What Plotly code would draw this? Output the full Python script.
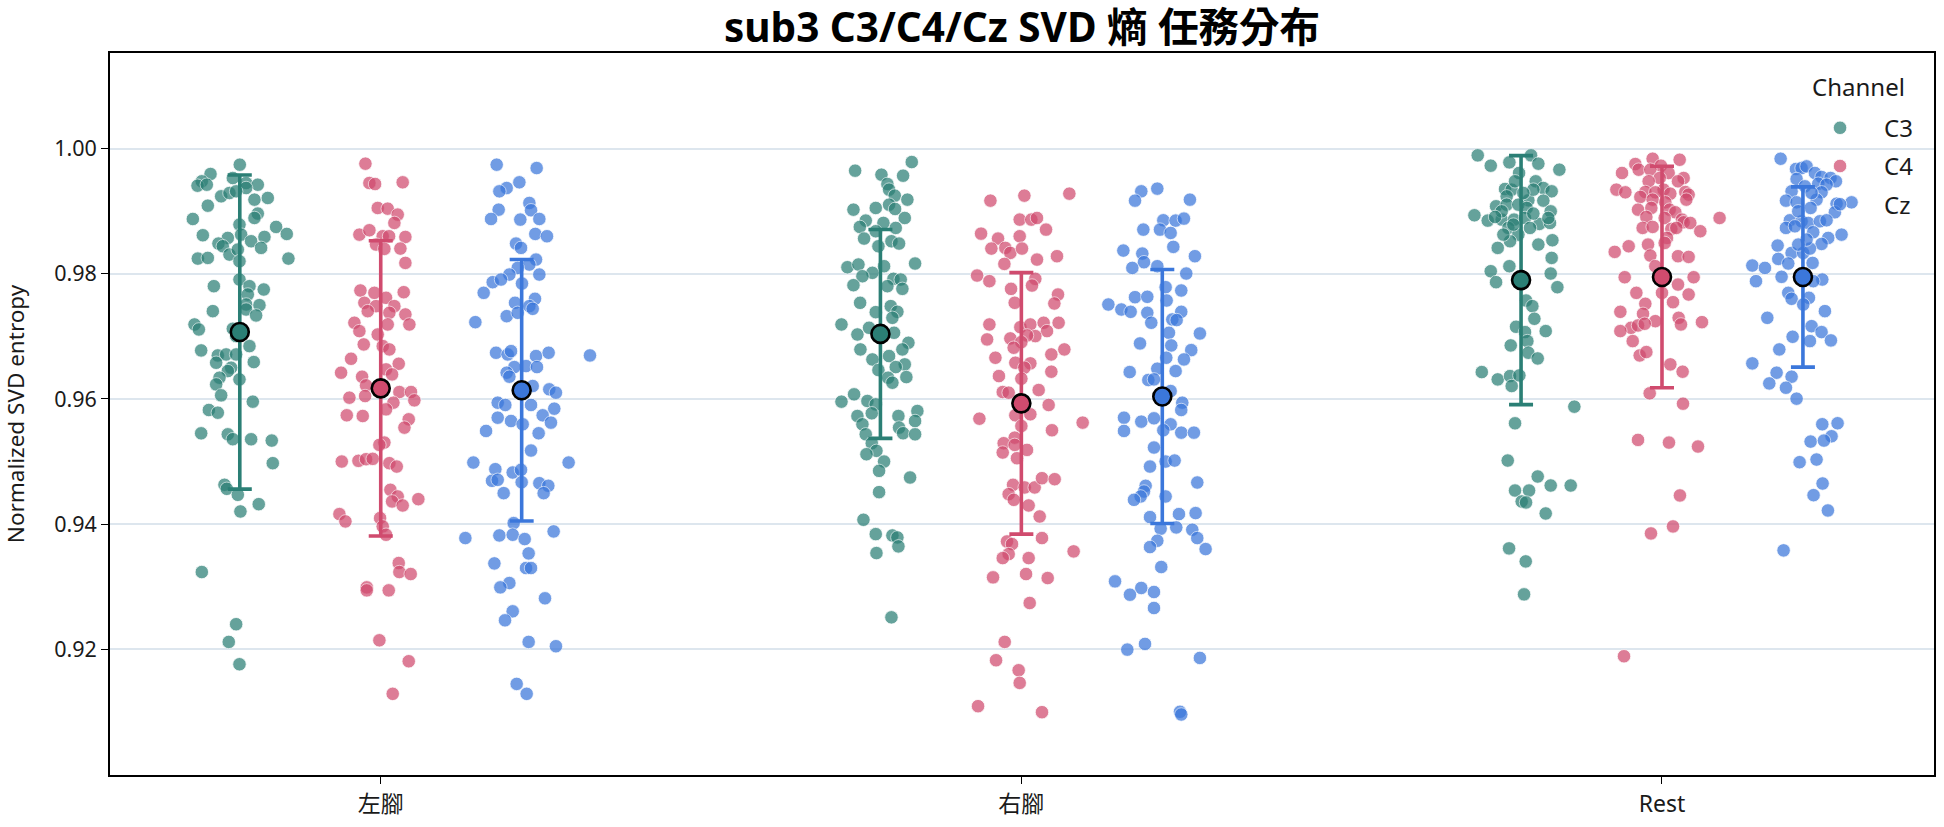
import plotly.graph_objects as go

# ---------------- data ----------------
categories = ["左腳", "右腳", "Rest"]
channels = ["C3", "C4", "Cz"]

left_c3_y = [0.99745,0.99596,0.99479,0.99409,0.99425,0.99532,0.99452,0.99425,0.99372,0.99239,
             0.99292,0.99319,0.99186,0.99213,0.9909,0.98963,0.98893,0.98877,0.98787,0.98617,
             0.98574,0.98484,0.98441,0.98627,0.98521,0.9859,0.9875,0.98638,0.98415,0.98308,
             0.98388,0.98244,0.98255,0.98202,0.98244,0.97909,0.97803,0.97803,0.9775,0.9767,
             0.9751,0.975,0.97404,0.9743,0.97335,0.97191,0.97111,0.97122,0.97005,0.96845,
             0.96776,0.96696,0.96712,0.96712,0.96579,0.9659,0.965,0.96446,0.9634,0.96313,
             0.96233,0.96058,0.95957,0.95824,0.95781,0.95451,0.95435,0.95356,0.95357,0.95335,
             0.94974,0.94628,0.94564,0.94468,0.94319,0.94202,0.93234,0.924,0.92117,0.9176]
left_c3_jit = [0,-0.0457,-0.0593,-0.066,-0.0515,-0.0109,0.0099,0.0281,0.0099,-0.0291,
               -0.0161,-0.0057,0.0229,0.0437,-0.0499,0.0281,0.0229,-0.0733,-0.0005,-0.0577,
               -0.0187,-0.0333,-0.0265,0.0021,0.0177,0.0385,0.0567,0.0733,0.0333,-0.0161,
               -0.0031,-0.0655,-0.0499,-0.0005,0.0759,-0.0005,0.0151,-0.0405,0.0374,0.0125,
               0.0099,0.0307,-0.0421,0.0099,0.0255,-0.0707,-0.0639,-0.0109,-0.0057,0.0151,
               -0.0603,-0.0343,-0.0213,-0.0057,-0.0369,0.0218,-0.0135,-0.0187,-0.0317,-0.0005,
               -0.0369,-0.0291,0.0203,-0.0483,-0.0343,-0.0603,-0.0187,0.0177,-0.0109,0.0499,
               0.0515,-0.0239,-0.0203,-0.0031,0.0296,0.001,-0.0593,-0.0057,-0.0172,-0.0005]

left_c4_y = [0.99761,0.99452,0.99436,0.99463,0.99053,0.99042,0.98947,0.98814,0.98627,0.98697,
             0.98601,0.98601,0.9859,0.98468,0.98399,0.98404,0.98175,0.97734,0.97696,0.97617,
             0.97707,0.97537,0.97484,0.97484,0.97404,0.97377,0.97351,0.97218,0.97085,0.97191,
             0.97191,0.97031,0.96872,0.96845,0.96792,0.96643,0.96563,0.96473,0.9642,0.96356,
             0.96393,0.96217,0.96111,0.96111,0.96021,0.96047,0.95978,0.95941,0.95834,0.95739,
             0.95728,0.95675,0.95542,0.95303,0.95266,0.95,0.95011,0.95037,0.95043,0.94974,
             0.9492,0.94548,0.94442,0.94399,0.94362,0.94298,0.9416,0.94043,0.94096,0.93963,
             0.9383,0.93378,0.93234,0.93202,0.92989,0.92941,0.92941,0.92143,0.91808,0.91287]
left_c4_jit = [-0.0239,-0.0177,-0.0088,0.0343,-0.0047,0.0109,0.0265,0.0213,-0.0333,-0.0177,
               0.0031,0.013,0.0385,-0.0073,0.0057,0.0307,0.0385,-0.0317,-0.0099,0.0083,
               0.0359,-0.0255,-0.0073,0.0213,-0.0203,0.0135,0.0385,-0.0411,-0.0333,0.0109,
               0.0447,-0.0047,-0.0265,0.0031,0.0135,-0.0463,0.0281,0.0083,-0.0619,-0.0291,
               0.0177,-0.0229,0.0291,0.0473,-0.0489,-0.0244,0.0525,0.0198,0.0083,-0.053,
               -0.0281,0.0437,0.037,0.0057,-0.0021,-0.0608,-0.0348,-0.0229,-0.0125,0.0135,
               0.025,0.0151,0.0265,0.0587,0.0177,0.0343,-0.0645,-0.0551,-0.001,0.0031,
               0.0083,0.0281,0.0291,0.0468,-0.0218,-0.0218,0.0125,-0.0021,0.0437,0.0187]

left_cz_y = [0.99745,0.99691,0.99463,0.99372,0.99319,0.99133,0.99016,0.99026,0.98877,0.98867,
             0.98877,0.98638,0.98601,0.98484,0.98415,0.98228,0.98149,0.98095,0.97989,0.97989,
             0.97867,0.97909,0.97845,0.97696,0.97601,0.97537,0.97484,0.97441,0.97324,0.97228,
             0.97377,0.96739,0.96712,0.96765,0.96686,0.96739,0.96696,0.96526,0.9651,0.9651,
             0.9642,0.96356,0.96207,0.96154,0.96101,0.95941,0.95904,0.95904,0.95845,0.95701,
             0.95648,0.95595,0.95739,0.95622,0.95489,0.95452,
             0.95176,0.94984,0.94984,0.94878,
             0.94825,0.94867,0.94692,0.94708,0.9467,0.94654,0.94612,0.94495,0.94495,0.94016,
             0.93883,0.93777,0.93819,0.9383,0.93761,0.93532,0.93372,0.93298,0.93298,0.93058,
             0.92989,0.92814,0.92606,0.92462,0.92117,0.92048,0.91446,0.91287]
left_cz_jit = [-0.039,0.0234,-0.0036,-0.0234,-0.0348,0.012,0.0146,-0.0359,-0.0478,-0.0021,
               0.0276,0.0213,0.0395,-0.0088,-0.001,0.0224,0.012,-0.0062,-0.0192,0.0276,
               -0.0452,-0.0322,0.0005,-0.0593,0.0208,-0.0104,0.012,0.0172,-0.0234,-0.0723,
               -0.0062,-0.04,-0.0218,-0.0166,0.0224,0.0421,0.1066,0.0068,0.0239,-0.0114,
               -0.0234,-0.0192,0.0172,0.0431,0.0535,-0.0374,-0.0255,0.0146,0.0509,-0.0374,
               -0.0166,0.0016,0.0328,0.0457,-0.0556,0.0265,
               0.0146,-0.0754,0.0733,-0.0411,
               -0.014,-0.001,-0.0463,-0.0374,0,0.0276,0.0416,-0.0281,0.0343,-0.0125,
               0.0499,-0.0879,-0.0348,-0.014,0.0047,0.0109,-0.0426,0.0068,0.0146,-0.0192,
               -0.0333,0.0364,-0.014,-0.026,0.0109,0.0535,-0.0078,0.0078]

right_c3_y = [0.99787,0.99649,0.99585,0.99569,0.99436,0.99346,0.9925,0.99186,0.99106,0.99053,
              0.99026,0.99037,0.98893,0.98851,0.98814,0.9875,0.98734,0.98681,0.98564,0.98521,
              0.98484,0.98441,0.98106,0.98149,0.98165,0.98122,0.98016,0.97962,0.9792,0.97909,
              0.97819,0.97803,0.9776,0.97537,0.97484,0.97388,0.97393,0.97297,0.97191,0.97031,
              0.97058,0.97138,0.96898,0.96792,0.96792,0.96632,0.96686,0.96553,0.9651,0.96462,
              0.9635,0.9634,0.9626,0.95957,0.96074,0.95968,0.95914,0.95808,0.95728,0.95771,
              0.95728,0.95595,0.95648,0.95542,0.95435,0.95452,0.95435,
              0.95293,0.95171,0.95117,0.95,0.94851,0.94745,0.94511,0.94069,0.9384,0.93819,
              0.93787,0.93644,0.93537,0.9251]
right_c3_jit = [0.0489,-0.0395,0.0016,0.0354,0.0109,0.0135,0.0224,0.0421,0.0135,-0.0073,
                -0.0421,0.0229,0.038,-0.0229,0.0047,-0.0322,0.0239,-0.0073,-0.0255,0.0172,
                0.0291,-0.0031,-0.0515,-0.0343,0.0541,0.0057,-0.0125,-0.0281,0.0203,0.0317,
                -0.0421,0.0109,0.0343,-0.0317,0.0161,-0.0073,0.0265,0.0187,-0.0608,-0.0359,
                0.0213,-0.0177,0.0437,-0.0312,0.0343,-0.0125,0.0135,0.038,0.0239,-0.0031,
                0.0405,0.012,0.0187,-0.0608,-0.0411,-0.0203,-0.0073,0.0577,-0.0359,-0.0135,
                0.0281,-0.0281,0.0541,0.0291,-0.0229,0.0354,0.0541,
                -0.0135,-0.0062,-0.0218,0.0057,-0.0021,0.0463,-0.0021,-0.0265,-0.0073,0.0187,
                0.0265,0.0281,-0.0062,0.0172]

right_c4_y = [0.99282,0.9925,0.9917,0.98867,0.98867,0.98893,0.98707,0.98643,0.98601,0.98564,
              0.98404,0.98415,0.98335,0.98404,0.98282,0.98228,0.98159,0.97973,0.97883,0.9792,
              0.97813,0.9776,0.9767,0.97526,0.97537,0.97218,0.97191,0.97148,0.97191,0.97218,
              0.97085,0.97005,0.97015,0.96952,0.96968,0.96909,0.96819,0.96792,0.96712,0.96659,
              0.96579,0.96569,0.965,0.96436,0.96366,0.96324,0.96111,0.96101,0.96143,0.95904,
              0.95685,0.95622,0.95739,0.95755,0.95568,0.955,0.95382,
              0.95293,0.95266,0.95186,0.95144,0.95053,0.94628,0.94586,0.94586,0.94734,0.94718,
              0.94479,0.94388,0.94298,0.94122,0.93777,0.93723,0.93681,0.93564,0.93521,0.93457,
              0.93457,0.93149,0.93202,0.93138,0.92739,0.92117,0.91824,0.91664,0.91462,0.9109,0.90994]
right_c4_jit = [0.0749,0.0047,-0.0483,-0.0026,0.0156,0.0244,0.0385,-0.0629,-0.0026,-0.0364,
                -0.0468,-0.025,-0.0172,0.001,0.0556,0.0244,-0.0265,-0.0691,-0.0499,0.0218,
                0.0166,-0.0161,0.0572,0.0515,-0.0104,0.0582,-0.0499,-0.0016,0.014,0.0348,
                0.04,0.0218,0.0088,-0.0535,-0.0172,0,-0.012,0.0671,0.0468,-0.0405,
                -0.0094,0.014,0.0047,0.0468,-0.035,0,-0.0291,-0.0198,0.027,0.0426,
                -0.0655,0.0957,-0.0094,0.014,0,0.0478,-0.0104,
                -0.0276,-0.0104,0.0088,-0.0291,-0.0068,-0.013,0.0052,0.0208,0.0322,0.052,
                -0.0198,-0.0119,0.0114,0.0286,0.0322,-0.0224,-0.0146,0.0816,-0.0198,-0.0291,
                0.0114,-0.0442,0.0073,0.0411,0.013,-0.026,-0.0395,-0.0042,-0.0026,-0.0676,0.0322]

right_cz_y = [0.99362,0.99319,0.9917,0.99186,0.98856,0.98851,0.98883,0.98707,0.98707,0.98654,
              0.98431,0.98372,0.98324,0.98186,0.98282,0.98095,0.98122,0.98005,0.97787,0.97734,
              0.97627,0.97633,0.9751,0.9743,0.97393,0.97574,0.97377,0.97393,0.97218,0.97271,
              0.97261,0.97058,0.97047,0.96888,0.96856,0.96781,0.96632,0.96659,0.9643,0.96484,
              0.96446,0.96303,0.96313,0.96127,0.95941,0.95824,0.95701,0.95638,0.95691,0.95595,
              0.95489,0.955,0.95462,0.95462,
              0.95224,0.95,0.95016,0.9492,0.94665,0.94612,0.94521,0.94442,0.94388,0.94442,
              0.94112,0.9416,0.94176,0.93926,0.93947,0.9391,0.93777,0.93734,0.93633,0.93601,
              0.93314,0.93085,0.92979,0.92872,0.92915,0.92659,0.91994,0.92085,0.91861,0.91,0.90957]
right_cz_jit = [-0.0078,-0.0328,-0.0426,0.0431,0.0016,0.0208,0.0338,-0.0296,-0.0036,0.013,
                0.0172,-0.0608,-0.0312,-0.0286,0.0509,-0.0468,-0.0078,0.0374,0.0052,0.0296,
                -0.0426,-0.0234,-0.0842,-0.0639,-0.0494,0.0068,-0.0234,0.0296,-0.0172,0.0156,
                0.0224,0.0104,0.0587,-0.0348,0.014,0.0452,0.0338,0.0062,-0.0509,-0.0078,
                0.0208,-0.0218,-0.013,0.013,0.0312,0.0296,-0.0598,-0.0328,-0.013,0.013,
                -0.0598,0.0016,0.0296,0.0494,
                -0.013,0.0052,0.0192,-0.0192,0.0546,-0.026,-0.0286,-0.0338,-0.0442,0.0052,
                -0.0192,0.026,0.052,-0.0026,0.0218,0.0468,0.0546,-0.0078,-0.0192,0.0676,
                -0.0016,-0.0738,-0.0328,-0.0505,-0.013,-0.013,-0.0546,-0.027,0.0587,0.0276,0.0296]

rest_c3_y = [0.99894,0.99729,0.99782,0.99894,0.99761,0.99665,0.99612,0.99479,0.99372,0.99319,
             0.99356,0.99346,0.99239,0.99175,0.9917,0.9908,0.99106,0.99106,0.99053,0.98999,
             0.98936,0.98851,0.98867,0.98867,0.98893,0.98798,0.98814,0.98734,0.98734,0.98627,
             0.98415,0.98521,0.98468,0.98537,0.98255,0.98122,0.98042,0.97867,0.98005,0.97787,
             0.97574,0.97484,0.97282,0.97154,0.97069,0.97085,0.96925,0.96856,0.96739,0.96648,
             0.9643,0.96313,0.96366,0.96207,0.96377,0.95877,0.95611,
             0.95016,0.94761,0.94537,0.94537,0.94617,0.94617,0.94362,0.94346,0.9417,0.93612,0.93404,0.92877,
             0.99479,0.98999,0.99346,0.99292,0.98787,0.98627,0.98909,0.98893,0.98963]
rest_c3_jit = [-0.0676,-0.0473,-0.0182,0.0156,0.027,0.0598,-0.0031,0.0229,0.0348,0.0478,
               -0.025,-0.0146,-0.0224,0.0114,0.0348,-0.039,-0.0224,-0.0042,0.0088,0.0463,
               -0.0728,-0.052,-0.0302,-0.0109,0.0062,0.0286,0.0452,0.014,-0.0198,-0.0042,
               -0.0364,-0.0172,0.027,0.0489,0.0478,-0.0182,-0.0473,-0.039,0.0463,0.0567,
               0.0078,0.0177,0.0208,-0.0078,0.0062,0.0385,0.0099,-0.0161,0.0114,0.026,
               -0.0613,-0.0364,-0.0172,-0.0146,-0.0026,0.0832,-0.0094,
               -0.0208,0.026,-0.0094,0.0125,0.0463,0.0775,0.001,0.0078,0.0385,-0.0187,0.0073,0.0047,
               -0.0094,-0.0302,0.0192,0.0036,-0.012,-0.0276,-0.0405,0.0426,0.0192]

rest_c4_y = [0.9984,0.99824,0.99755,0.99729,0.99612,0.99665,0.99665,0.99612,0.99532,0.99532,
             0.99479,0.99479,0.99346,0.99346,0.99303,0.99308,0.99303,0.99282,0.99308,0.99266,
             0.99229,0.99186,0.99186,0.99143,0.99026,0.99053,0.99026,0.98984,0.98909,0.98893,
             0.98867,0.98824,0.98814,0.98893,0.98734,0.9875,0.98718,0.98681,0.98734,0.98574,
             0.98441,0.98468,0.98494,0.98351,0.98292,0.98282,0.98271,0.98122,0.97946,0.97946,
             0.97829,0.97696,0.97696,0.9767,0.97547,0.97521,0.97393,0.97361,0.97297,0.97244,
             0.97228,0.97138,0.97175,0.97202,0.97085,0.97191,0.96925,0.96696,0.9675,0.96553,
             0.96436,0.9609,0.95925,0.95346,0.95303,0.9524,0.94458,0.93963,0.93851,0.91888]
rest_c4_jit = [-0.0146,0.0276,-0.0416,-0.0016,-0.0624,-0.0364,-0.0182,0.0104,0.0338,-0.0036,
               0.025,-0.0208,0.0026,-0.0712,-0.0572,-0.026,-0.0104,0.013,0.0364,0.0416,
               -0.0338,-0.0146,0.038,0.0052,-0.0374,-0.0166,0.012,0.0208,-0.0244,0.0042,
               0.0312,0.0338,0.0442,0.0899,-0.0302,-0.0146,0.0146,0.0598,0.0224,0.0078,
               -0.052,-0.0218,0.0042,-0.0738,-0.0182,0.025,0.0416,-0.0104,-0.0582,0.0494,
               0.025,-0.04,0,0.0416,0.0172,-0.026,-0.065,-0.0296,0.026,-0.0104,
               0.0624,-0.0483,-0.0374,-0.027,-0.065,0.0296,-0.0457,-0.0348,-0.0244,0.013,
               0.0322,-0.0192,0.0328,-0.0374,0.0109,0.0562,0.028,0.0172,-0.0172,-0.0593]

rest_cz_y = [0.9984,0.99676,0.99691,0.99718,0.99612,0.99548,0.99532,0.99479,0.99516,0.99441,
             0.99425,0.99319,0.99303,0.9917,0.99143,0.99186,0.99122,0.99143,0.99053,0.98984,
             0.98856,0.9884,0.98814,0.9884,0.98734,0.9876,0.98665,0.98627,0.98574,0.98452,
             0.98478,0.98335,0.98335,0.98404,0.98133,0.98095,0.98239,0.98165,0.98175,0.97883,
             0.97952,0.97909,0.97883,0.97696,0.97601,0.97617,0.9751,0.97404,0.97297,0.97164,
             0.97069,0.96994,0.96925,0.96936,0.96792,0.96569,0.9642,0.96356,0.96249,0.9618,
             0.96005,0.95596,0.95612,0.95404,0.95319,0.95335,0.9499,0.95032,0.94649,0.94463,0.94218,0.9358,
             0.99399,0.99292,0.99,0.98856,0.98548,0.98468]
rest_cz_jit = [-0.0348,-0.0109,-0.0021,0.0057,0.0187,0.0291,0.0431,0.0515,-0.0099,0.0239,
               0.0369,-0.0177,0.0291,-0.0265,-0.0099,0.0213,0.0525,0.0759,0.012,0.0499,
               -0.0203,-0.0021,0.0083,0.0265,-0.0265,-0.0125,0.0161,0.0603,0.0395,-0.0395,
               0.0291,-0.0177,0.0005,0.0109,-0.079,-0.0593,-0.0385,-0.0229,0.0151,-0.0733,
               -0.0333,0.0302,0.0161,-0.0229,-0.0177,0.0094,0.0005,0.0343,-0.0556,0.0135,
               0.0291,-0.0161,0.0109,0.0437,-0.0369,-0.079,-0.0411,-0.0177,-0.0525,-0.0265,
               -0.0099,0.0302,0.0541,0.0447,0.012,0.0328,-0.0052,0.0213,0.0307,0.0166,0.039,-0.0302,
               0.0031,0.0135,-0.0073,0.0369,0.0057,-0.0073]

# mean and standard deviation per (category, channel)
means = {"C3": [0.9707, 0.9704, 0.9790],
         "C4": [0.9617, 0.9593, 0.9795],
         "Cz": [0.9614, 0.9604, 0.9795]}
sds = {"C3": [0.0251, 0.0167, 0.0199],
       "C4": [0.0236, 0.0209, 0.0177],
       "Cz": [0.0209, 0.0203, 0.0144]}

values = {
    "C3": [(left_c3_y, left_c3_jit), (right_c3_y, right_c3_jit), (rest_c3_y, rest_c3_jit)],
    "C4": [(left_c4_y, left_c4_jit), (right_c4_y, right_c4_jit), (rest_c4_y, rest_c4_jit)],
    "Cz": [(left_cz_y, left_cz_jit), (right_cz_y, right_cz_jit), (rest_cz_y, rest_cz_jit)],
}

# ---------------- style ----------------
colors = {"C3": "#2b7f75", "C4": "#d04b6e", "Cz": "#3b77db"}
dodge = {"C3": -0.22, "C4": 0.0, "Cz": 0.22}
FONT = "Noto Sans, Noto Sans CJK TC, sans-serif"

fig = go.Figure()

# jittered points
for ch in channels:
    xs, ys = [], []
    for ci, (yv, jv) in enumerate(values[ch]):
        for y, j in zip(yv, jv):
            xs.append(ci + dodge[ch] + j)
            ys.append(y)
    fig.add_trace(go.Scatter(
        x=xs, y=ys, mode="markers", name=ch, legendgroup=ch,
        marker=dict(size=13.5, color=colors[ch], opacity=0.72,
                    line=dict(color="white", width=0.8)),
        showlegend=True,
    ))

# means with SD error bars
for ch in channels:
    fig.add_trace(go.Scatter(
        x=[ci + dodge[ch] for ci in range(len(categories))],
        y=means[ch], mode="markers", showlegend=False, legendgroup=ch,
        marker=dict(size=18, color=colors[ch], line=dict(color="black", width=2.6)),
        error_y=dict(type="data", array=sds[ch], visible=True,
                     color=colors[ch], thickness=3.6, width=12),
    ))

fig.update_layout(
    width=1944, height=827,
    margin=dict(l=110, r=8, t=53, b=51),
    paper_bgcolor="white", plot_bgcolor="white",
    font=dict(family=FONT, size=22, color="#1a1a1a"),
    title=dict(text="<b>sub3 C3/C4/Cz SVD 熵 任務分布</b>", x=0.5, xref="paper",
               xanchor="center", y=1 - 28 / 827, yanchor="middle",
               font=dict(family=FONT, size=40.5, color="black")),
    legend=dict(
        x=0.9918, xanchor="right", y=0.927, yanchor="top",
        bgcolor="rgba(0,0,0,0)", borderwidth=0,
        font=dict(size=24), tracegroupgap=4, itemwidth=78,
    ),
    annotations=[dict(text="Channel", xref="paper", yref="paper",
                      x=0.9852, xanchor="right", y=0.953, yanchor="middle",
                      showarrow=False, font=dict(size=24, color="#1a1a1a"))],
    showlegend=True,
)

fig.update_xaxes(
    range=[-0.4226, 2.4246], tickmode="array", tickvals=[0, 1, 2], ticktext=categories,
    showgrid=False, zeroline=False, showline=True, linecolor="black", linewidth=1.8,
    mirror=True, ticks="outside", ticklen=7, tickwidth=1.2, tickcolor="black",
    tickfont=dict(size=23),
)
fig.update_yaxes(
    range=[0.8999, 1.0153], tickmode="array",
    tickvals=[0.92, 0.94, 0.96, 0.98, 1.00],
    ticktext=["0.92", "0.94", "0.96", "0.98", "1.00"],
    showgrid=True, gridcolor="#dde6ee", gridwidth=1.5, zeroline=False,
    showline=True, linecolor="black", linewidth=1.8, mirror=True,
    ticks="outside", ticklen=7, tickwidth=1.2, tickcolor="black",
    tickfont=dict(size=21.5),
    title=dict(text="Normalized SVD entropy", font=dict(size=22.5), standoff=26),
)

fig.write_html("out.html")
